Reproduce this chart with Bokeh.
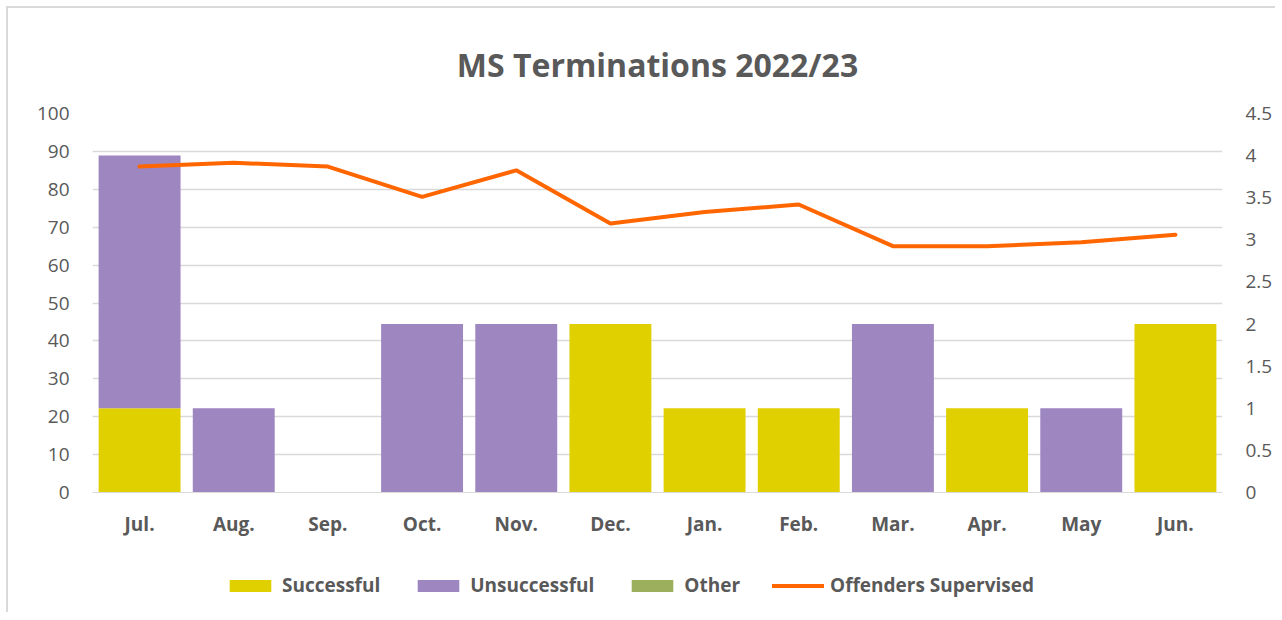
from bokeh.plotting import figure
from bokeh.layouts import column
from bokeh.models import Range1d, LinearAxis, Legend, LegendItem, FixedTicker, Title
from bokeh.embed import file_html
from bokeh.resources import INLINE

months = ["Jul.", "Aug.", "Sep.", "Oct.", "Nov.", "Dec.", "Jan.", "Feb.", "Mar.", "Apr.", "May", "Jun."]
successful = [1, 0, 0, 0, 0, 2, 1, 1, 0, 1, 0, 2]
unsuccessful = [3, 1, 0, 2, 2, 0, 0, 0, 2, 0, 1, 0]
other = [0, 0, 0, 0, 0, 0, 0, 0, 0, 0, 0, 0]
offenders = [86, 87, 86, 78, 85, 71, 74, 76, 65, 65, 66, 68]
series_names = ["Successful", "Unsuccessful", "Other", "Offenders Supervised"]
colors = ["#E0D000", "#9E86C0", "#9BAF5D", "#FF6600"]

FONT = "Open Sans"
GRAY = "#595959"

p = figure(x_range=months, y_range=Range1d(0, 100), frame_width=1130, frame_height=379,
           output_backend="svg", toolbar_location=None,
           min_border_left=84, min_border_right=52, min_border_top=105, min_border_bottom=50)
p.extra_y_ranges = {"right": Range1d(0, 4.5)}

data = dict(m=months, s=successful, u=unsuccessful, o=other)
rs = p.vbar_stack(["s", "u", "o"], x="m", width=0.87, source=data, y_range_name="right",
                  color=colors[:3], line_color=None)
ln = p.line(months, offenders, line_color=colors[3], line_width=4, line_cap="round")

p.add_layout(Title(text="MS Terminations 2022/23", align="center", text_font=FONT,
                   text_font_size="32px", text_font_style="bold", text_color=GRAY,
                   standoff=56, offset=-11), "above")

# axes
p.yaxis.ticker = FixedTicker(ticks=list(range(0, 101, 10)))
right = LinearAxis(y_range_name="right", ticker=FixedTicker(ticks=[i * 0.5 for i in range(10)]))
p.add_layout(right, "right")
for ax in [p.yaxis[0], right]:
    ax.axis_line_color = None
    ax.major_tick_line_color = None
    ax.minor_tick_line_color = None
    ax.major_label_text_font = FONT
    ax.major_label_text_font_size = "19px"
    ax.major_label_text_color = GRAY
p.yaxis[0].major_label_standoff = 17
right.major_label_standoff = 17
p.xaxis.axis_line_color = "#D9D9D9"
p.xaxis.major_tick_line_color = None
p.xaxis.major_label_text_font = FONT
p.xaxis.major_label_text_font_size = "19px"
p.xaxis.major_label_text_font_style = "bold"
p.xaxis.major_label_text_color = GRAY
p.xaxis.major_label_standoff = 12
p.xgrid.grid_line_color = None
p.ygrid.grid_line_color = "#D9D9D9"
p.ygrid.grid_line_width = 1.5
p.outline_line_color = None
p.x_range.range_padding = 0.0

# legend strip below the chart (legend-only swatch renderers, kept outside the visible range)
lg = figure(width=1266, height=70, x_range=Range1d(0, 1), y_range=Range1d(0, 1),
            output_backend="svg", toolbar_location=None, min_border=0,
            x_axis_location=None, y_axis_location=None)
lg.grid.grid_line_color = None
lg.outline_line_color = None
items = []
for name, c in zip(series_names[:3], colors[:3]):
    r = lg.vbar(x=[-5], top=[-5], bottom=[-6], width=0.1, color=c, line_color=None)
    items.append(LegendItem(label=name, renderers=[r]))
rl = lg.line(x=[-5, -4], y=[-5, -5], line_color=colors[3], line_width=4, line_cap="round")
items.append(LegendItem(label=series_names[3], renderers=[rl]))
legend = Legend(items=items, orientation="horizontal", location=(132, 14), label_text_font=FONT,
                label_text_font_size="19px", label_text_font_style="bold", label_text_color=GRAY,
                glyph_width=52, glyph_height=15, spacing=32, label_standoff=6,
                border_line_color=None, background_fill_alpha=0, padding=0, margin=0)
lg.add_layout(legend)

layout = column(p, lg, spacing=0,
                styles={"margin-left": "6px", "margin-top": "6px",
                        "border-left": "2px solid #D9D9D9", "border-top": "2px solid #D9D9D9"})

open("out.html", "w").write(file_html(layout, INLINE))
